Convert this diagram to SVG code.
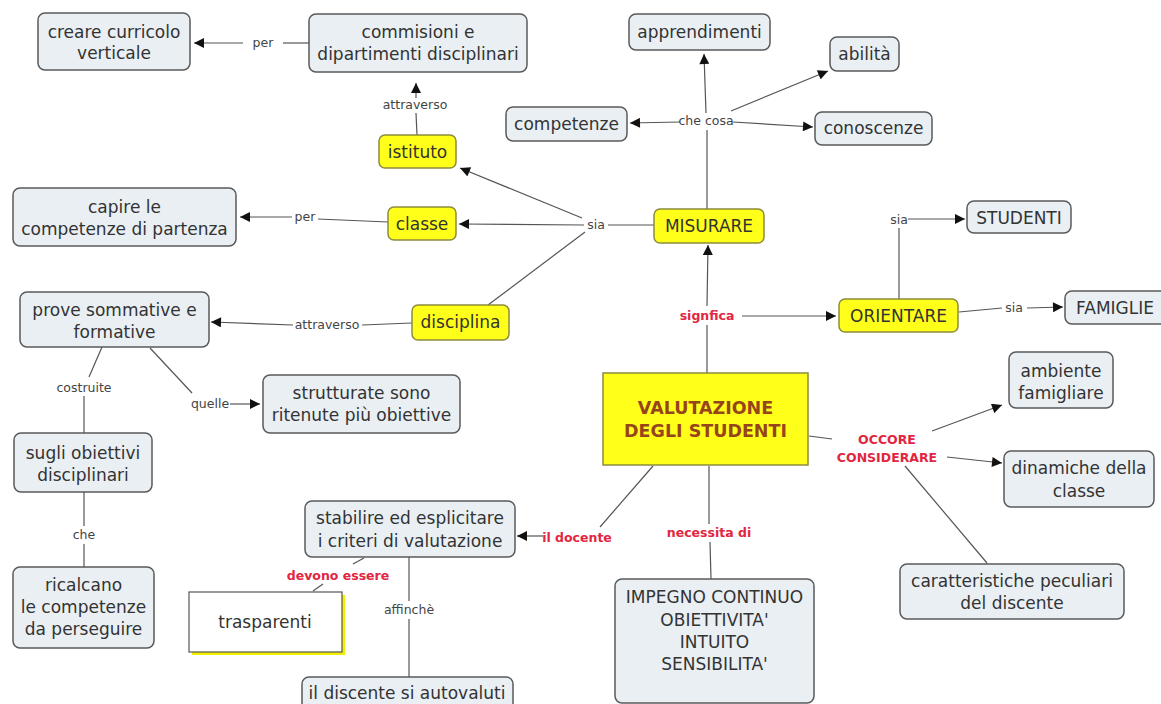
<svg xmlns="http://www.w3.org/2000/svg" width="1161" height="704" viewBox="0 0 1161 704">
<defs>
<marker id="ah" viewBox="0 0 10 10" refX="10" refY="5" markerWidth="11" markerHeight="10" markerUnits="userSpaceOnUse" orient="auto"><path d="M0,0 L10,5 L0,10 Z" fill="#111"/></marker>
</defs>
<style>
.n rect{fill:#E9EFF3;stroke:#5a5a5a;stroke-width:1.5}
.y rect{fill:#FFFF1A;stroke:#8c8c3c;stroke-width:1.5}
.n text,.y text,.w text{font-family:"DejaVu Sans",Verdana,sans-serif;font-size:17px;fill:#333;text-anchor:middle}
.lab{font-family:"DejaVu Sans",Verdana,sans-serif;font-size:12.5px;fill:#444;text-anchor:middle}
.red{font-family:"DejaVu Sans",Verdana,sans-serif;font-size:12.5px;font-weight:bold;fill:#E2263F;text-anchor:middle}
.y text.vt{font-weight:bold;font-size:17.5px;fill:#96441A}
#conn line{stroke:#555;stroke-width:1.2;fill:none}
#conn line.a{marker-end:url(#ah)}
</style>
<rect width="1161" height="704" fill="#fff"/>
<g id="conn">
<line x1="309" y1="43" x2="283" y2="43"/><line class="a" x1="243" y1="43" x2="194" y2="43"/>
<line x1="417" y1="135" x2="416" y2="113"/><line class="a" x1="416" y1="98" x2="416" y2="83"/>
<line x1="388" y1="222" x2="318" y2="219"/><line class="a" x1="292" y1="217" x2="240" y2="217"/>
<line x1="654" y1="225" x2="608" y2="225"/>
<line class="a" x1="584" y1="225" x2="459" y2="224"/>
<line class="a" x1="582" y1="218" x2="460" y2="168"/>
<line x1="585" y1="232" x2="488" y2="305"/>
<line x1="412" y1="323" x2="362" y2="325"/><line class="a" x1="293" y1="325" x2="211" y2="322"/>
<line x1="707" y1="209" x2="707" y2="130"/>
<line class="a" x1="706" y1="113" x2="704" y2="54"/>
<line class="a" x1="731" y1="111" x2="828" y2="71"/>
<line class="a" x1="680" y1="122" x2="630" y2="123"/>
<line class="a" x1="733" y1="122" x2="813" y2="127"/>
<line x1="899" y1="299" x2="899" y2="228"/><line class="a" x1="908" y1="219" x2="965" y2="219"/>
<line x1="959" y1="312" x2="1002" y2="308"/><line class="a" x1="1027" y1="308" x2="1063" y2="307"/>
<line x1="707" y1="373" x2="707" y2="325"/><line class="a" x1="707" y1="306" x2="708" y2="245"/>
<line class="a" x1="742" y1="316" x2="836" y2="316"/>
<line x1="809" y1="436" x2="832" y2="439"/>
<line class="a" x1="932" y1="431" x2="1002" y2="405"/>
<line class="a" x1="947" y1="457" x2="1002" y2="463"/>
<line x1="905" y1="466" x2="987" y2="563"/>
<line x1="653" y1="466" x2="600" y2="527"/><line class="a" x1="543" y1="536" x2="517" y2="536"/>
<line x1="709" y1="466" x2="709" y2="524"/><line x1="710" y1="542" x2="711" y2="579"/>
<line x1="364" y1="558" x2="353" y2="564"/><line x1="323" y1="584" x2="313" y2="591"/>
<line x1="409" y1="557" x2="409" y2="601"/><line x1="409" y1="619" x2="409" y2="677"/>
<line x1="102" y1="347" x2="89" y2="377"/><line x1="84" y1="396" x2="84" y2="433"/>
<line x1="150" y1="348" x2="192" y2="393"/><line class="a" x1="230" y1="404" x2="260" y2="404"/>
<line x1="84" y1="492" x2="84" y2="526"/><line x1="84" y1="544" x2="84" y2="567"/>
</g>
<g id="labels">
<text class="lab" x="263" y="47">per</text>
<text class="lab" x="415" y="109">attraverso</text>
<text class="lab" x="305" y="221">per</text>
<text class="lab" x="596" y="229">sia</text>
<text class="lab" x="327" y="329">attraverso</text>
<text class="lab" x="706" y="125">che cosa</text>
<text class="lab" x="899" y="224">sia</text>
<text class="lab" x="1014" y="312">sia</text>
<text class="red" x="707" y="320">signfica</text>
<text class="red" x="887" y="444">OCCORE</text>
<text class="red" x="887" y="462">CONSIDERARE</text>
<text class="red" x="577" y="542">il docente</text>
<text class="red" x="709" y="537">necessita di</text>
<text class="red" x="338" y="580">devono essere</text>
<text class="lab" x="409" y="614">affinchè</text>
<text class="lab" x="84" y="392">costruite</text>
<text class="lab" x="210" y="408">quelle</text>
<text class="lab" x="84" y="539">che</text>
</g>
<g id="n-creare" class="n"><rect x="38" y="13" width="152" height="57" rx="7"/><text x="114" y="38">creare curricolo</text><text x="114" y="59">verticale</text></g>
<g id="n-commisioni" class="n"><rect x="309" y="14" width="218" height="58" rx="7"/><text x="418" y="38">commisioni e</text><text x="418" y="60">dipartimenti disciplinari</text></g>
<g id="n-istituto" class="y"><rect x="379" y="135" width="77" height="33" rx="6"/><text x="417.5" y="158">istituto</text></g>
<g id="n-classe" class="y"><rect x="388" y="207" width="68" height="33" rx="6"/><text x="422" y="230">classe</text></g>
<g id="n-capire" class="n"><rect x="13" y="188" width="223" height="58" rx="7"/><text x="124.5" y="213">capire le</text><text x="124.5" y="235">competenze di partenza</text></g>
<g id="n-disciplina" class="y"><rect x="412" y="305" width="97" height="35" rx="6"/><text x="460.5" y="328">disciplina</text></g>
<g id="n-prove" class="n"><rect x="20" y="292" width="189" height="55" rx="7"/><text x="114.5" y="316">prove sommative e</text><text x="114.5" y="338">formative</text></g>
<g id="n-misurare" class="y"><rect x="654" y="209" width="110" height="34" rx="6"/><text x="709" y="232">MISURARE</text></g>
<g id="n-apprendimenti" class="n"><rect x="629" y="14" width="141" height="36" rx="7"/><text x="699.5" y="38">apprendimenti</text></g>
<g id="n-abilita" class="n"><rect x="830" y="37" width="69" height="34" rx="7"/><text x="864.5" y="60">abilità</text></g>
<g id="n-competenze" class="n"><rect x="506" y="107" width="121" height="34" rx="7"/><text x="566.5" y="130">competenze</text></g>
<g id="n-conoscenze" class="n"><rect x="815" y="112" width="117" height="33" rx="7"/><text x="873.5" y="134">conoscenze</text></g>
<g id="n-studenti" class="n"><rect x="967" y="201" width="104" height="32" rx="7"/><text x="1019" y="224">STUDENTI</text></g>
<g id="n-orientare" class="y"><rect x="839" y="299" width="119" height="33" rx="6"/><text x="898.5" y="322">ORIENTARE</text></g>
<g id="n-famiglie" class="n"><rect x="1065" y="291" width="104" height="33" rx="7"/><text x="1115" y="314">FAMIGLIE</text></g>
<g id="n-valutazione" class="y"><rect x="603" y="373" width="205" height="92" rx="0"/><text class="vt" x="705.5" y="414">VALUTAZIONE</text><text class="vt" x="705.5" y="437">DEGLI STUDENTI</text></g>
<g id="n-ambiente" class="n"><rect x="1009" y="352" width="104" height="56" rx="7"/><text x="1061" y="377">ambiente</text><text x="1061" y="399">famigliare</text></g>
<g id="n-dinamiche" class="n"><rect x="1004" y="451" width="150" height="56" rx="7"/><text x="1079" y="474">dinamiche della</text><text x="1079" y="497">classe</text></g>
<g id="n-caratteristiche" class="n"><rect x="900" y="564" width="224" height="55" rx="7"/><text x="1012" y="587">caratteristiche peculiari</text><text x="1012" y="609">del discente</text></g>
<g id="n-stabilire" class="n"><rect x="305" y="501" width="210" height="56" rx="7"/><text x="410" y="524">stabilire ed esplicitare</text><text x="410" y="547">i criteri di valutazione</text></g>
<g id="n-impegno" class="n"><rect x="615" y="579" width="199" height="124" rx="7"/><text x="714.5" y="603">IMPEGNO CONTINUO</text><text x="714.5" y="626">OBIETTIVITA'</text><text x="714.5" y="648">INTUITO</text><text x="714.5" y="670">SENSIBILITA'</text></g>
<g id="n-trasparenti" class="w"><rect x="192" y="595" width="153" height="60" fill="#F0F000"/><rect x="189" y="592" width="153" height="60" fill="#fff" stroke="#555" stroke-width="1.2"/><text x="265" y="628">trasparenti</text></g>
<g id="n-autovaluti" class="n"><rect x="302" y="677" width="211" height="34" rx="7"/><text x="407" y="699">il discente si autovaluti</text></g>
<g id="n-sugli" class="n"><rect x="14" y="433" width="138" height="59" rx="7"/><text x="83" y="459">sugli obiettivi</text><text x="83" y="481">disciplinari</text></g>
<g id="n-strutturate" class="n"><rect x="263" y="375" width="197" height="58" rx="7"/><text x="361.5" y="399">strutturate sono</text><text x="361.5" y="421">ritenute più obiettive</text></g>
<g id="n-ricalcano" class="n"><rect x="13" y="567" width="141" height="81" rx="7"/><text x="83.5" y="591">ricalcano</text><text x="83.5" y="613">le competenze</text><text x="83.5" y="635">da perseguire</text></g>
</svg>
